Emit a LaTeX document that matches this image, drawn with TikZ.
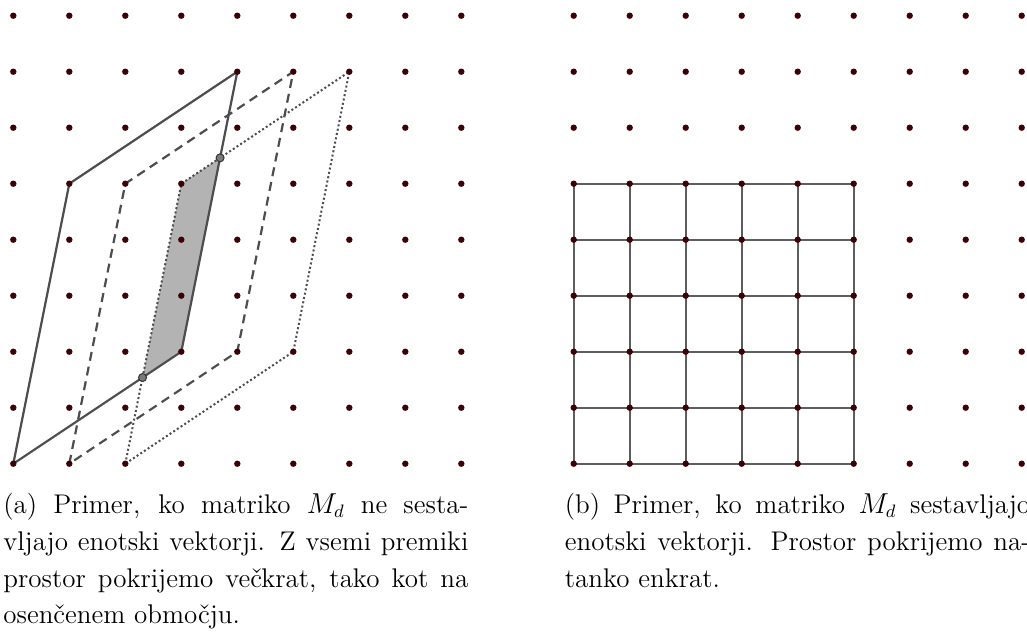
\documentclass[tikz,border=0pt]{standalone}
\usepackage{fontspec}
\definecolor{dotred}{HTML}{3F0005}
\definecolor{lineg}{HTML}{4D4D4D}
\definecolor{gridg}{HTML}{5E5E5E}
\definecolor{shade}{HTML}{B3B3B3}
\definecolor{ptfill}{HTML}{7A7A7A}
\begin{document}
\begin{tikzpicture}[x=0.5pt,y=-0.5pt,
  latdot/.style={fill=dotred},
  solidedge/.style={draw=lineg,line width=1.1pt,line join=round},
  dashedge/.style={draw=lineg,line width=1.1pt,dash pattern=on 4.5pt off 3pt},
  dotedge/.style={draw=lineg,line width=1pt,dash pattern=on 1pt off 1.2pt},
  shaded/.style={fill=shade},
  cutpt/.style={circle,draw=black!80,fill=ptfill,line width=0.5pt,inner sep=0pt,minimum size=4pt},
  gridline/.style={draw=gridg,line width=1.1pt},
  capline/.style={anchor=base west,inner sep=0pt,font=\fontsize{13.5pt}{18.5pt}\selectfont}]
\useasboundingbox (0,0) rectangle (1027,637);
% ---------- left panel ----------
\begin{scope}[shift={(13.3,463.7)},x=28pt,y=28pt]
  \coordinate (A0) at (0,0); \coordinate (A1) at (1,5);
  \coordinate (A2) at (4,7); \coordinate (A3) at (3,2);
  \coordinate (B0) at (1,0); \coordinate (B1) at (2,5);
  \coordinate (B2) at (5,7); \coordinate (B3) at (4,2);
  \coordinate (C0) at (2,0); \coordinate (C1) at (3,5);
  \coordinate (C2) at (6,7); \coordinate (C3) at (5,2);
  \coordinate (P) at (30/13,20/13);
  \coordinate (Q) at (48/13,71/13);
  \fill[shaded] (P) -- (A3) -- (Q) -- (C1) -- cycle;
  \draw[dotedge] (C0) -- (C1) -- (C2) -- (C3) -- cycle;
  \draw[dashedge] (B0) -- (B1) -- (B2) -- (B3) -- cycle;
  \draw[solidedge] (A0) -- (A1) -- (A2) -- (A3) -- cycle;
  \foreach \i in {0,...,8}
    \foreach \j in {0,...,8}
      \fill[latdot] (\i,\j) circle[radius=1.6pt];
  \node[cutpt] (p) at (P) {};
  \node[cutpt] (q) at (Q) {};
\end{scope}
% ---------- right panel ----------
\begin{scope}[shift={(573.7,463.7)},x=28pt,y=28pt]
  \foreach \k in {0,...,5} {
    \draw[gridline] (\k,0) -- (\k,5);
    \draw[gridline] (0,\k) -- (5,\k);
  }
  \foreach \i in {0,...,8}
    \foreach \j in {0,...,8}
      \fill[latdot] (\i,\j) circle[radius=1.6pt];
\end{scope}
% ---------- captions ----------
\node[capline] (a1) at (3,513) {\makebox[232.5pt][s]{(a) Primer, ko matriko $M_d$ ne sesta-}};
\node[capline] (a2) at (3,550) {\makebox[232.5pt][s]{vljajo enotski vektorji. Z vsemi premiki}};
\node[capline] (a3) at (3,587) {\makebox[232.5pt][s]{prostor pokrijemo večkrat, tako kot na}};
\node[capline] (a4) at (3,623.5) {osenčenem območju.};
\node[capline] (b1) at (564.5,513) {\makebox[232.6pt][s]{(b) Primer, ko matriko $M_d$ sestavljajo}};
\node[capline] (b2) at (564.5,550) {\makebox[232.6pt][s]{enotski vektorji. Prostor pokrijemo na-}};
\node[capline] (b3) at (564.5,587) {tanko enkrat.};
\end{tikzpicture}
\end{document}
